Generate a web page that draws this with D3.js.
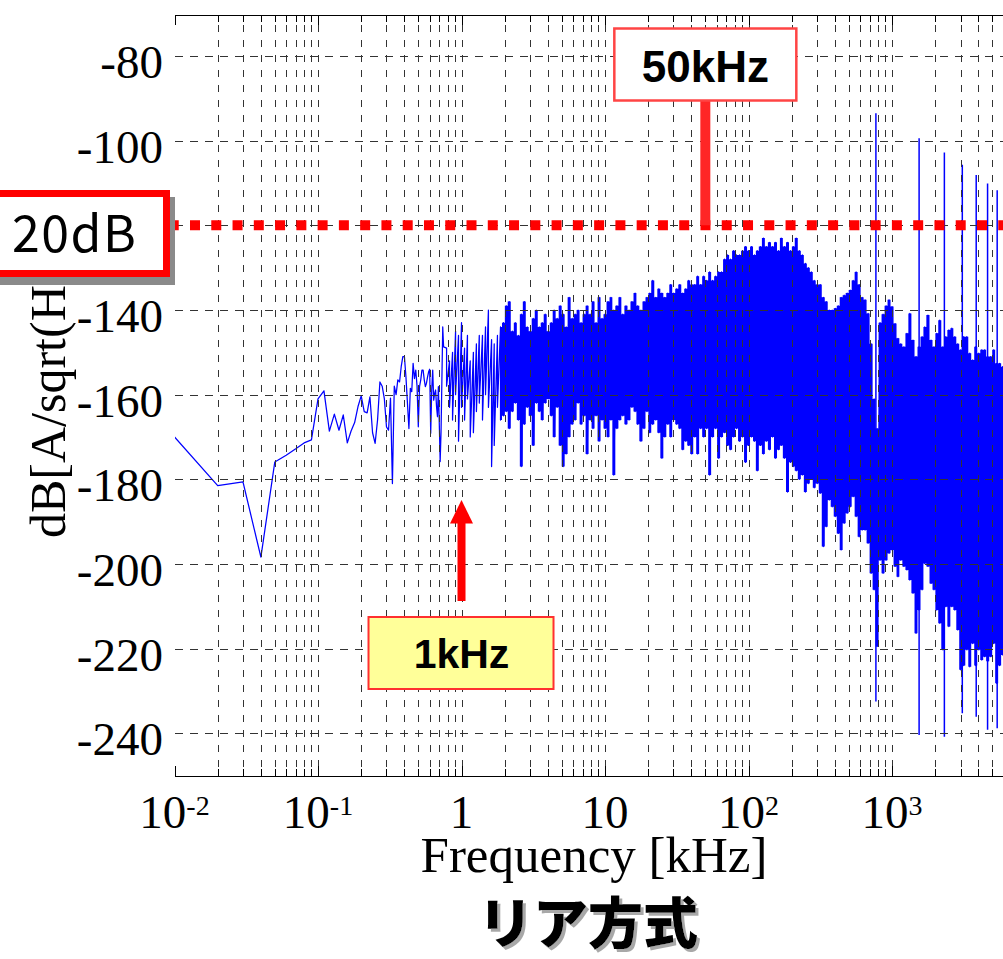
<!DOCTYPE html>
<html>
<head>
<meta charset="utf-8">
<script src="https://cdn.jsdelivr.net/npm/d3@7"></script>
<style>
  html, body { margin: 0; padding: 0; background: #ffffff; overflow: hidden; }
  svg { display: block; }
</style>
</head>
<body>
<svg id="chart" width="1003" height="959"></svg>
<script>
// ---- Spectrum data: frequency in kHz, level in dB[A/sqrt(Hz)] ----

// Individual FFT bins at the low end (10 Hz spacing)
const lowFreq = [0.01,0.02,0.03,0.04,0.05,0.06,0.07,0.08,0.09,0.10,
  0.11,0.12,0.13,0.14,0.15,0.16,0.17,0.18,0.19,0.20,
  0.21,0.22,0.23,0.24,0.25,0.26,0.27,0.28,0.29,0.30,
  0.31,0.32,0.33,0.34,0.35,0.36,0.37,0.38,0.39,0.40,
  0.41,0.42,0.43,0.44,0.45,0.46,0.47,0.48,0.49,0.50,
  0.51,0.52,0.53,0.54,0.55,0.56,0.57,0.58,0.59,0.60,
  0.61,0.62,0.63,0.64,0.65,0.66,0.67,0.68,0.69,0.70,
  0.71,0.72,0.73,0.74,0.75];
const lowDb = [-170,-181.5,-180.6,-198.4,-175.9,-174.3,-172.8,-171.4,-170.7,-161.0,
  -159.1,-168.6,-164.6,-168.4,-164.8,-171.4,-168.6,-166.6,-162.8,-160.3,
  -164.0,-164.3,-160.5,-169.0,-171.5,-166.0,-157.0,-158.0,-161.0,-167.6,
  -168.4,-160.8,-181.0,-158.0,-160.0,-156.5,-157.0,-153.4,-151.0,-151.0,
  -155.8,-162.0,-168.0,-158.5,-159.3,-152.6,-156.2,-154.2,-158.0,-167.6,
  -158.1,-156.5,-154.2,-154.2,-156.5,-158.1,-157.3,-155.8,-154.6,-154.0,
  -169.1,-158.9,-154.2,-161.3,-159.7,-158.9,-162.9,-165.2,-158.1,-166.8,
  -175.8,-168.8,-156.5,-144.0,-148.7];

// Dense part: per-column max / min of the trace
const bandFreq = [0.787,0.825,0.866,0.909,0.953,
  1.00,1.05,1.10,1.15,1.21,1.27,1.33,1.40,1.47,1.54,1.62,1.69,1.78,1.87,1.96,2.05,2.15,2.26,2.37,2.49,
  2.61,2.74,2.87,3.01,3.16,3.32,3.48,3.65,3.83,4.02,4.22,4.42,4.64,4.87,5.11,5.36,5.62,5.90,6.19,6.49,
  6.81,7.15,7.50,7.87,8.25,8.66,9.09,9.53,
  10.0,10.5,11.0,11.5,12.1,12.7,13.3,14.0,14.7,15.4,16.2,16.9,17.8,18.7,19.6,20.5,21.5,22.6,23.7,24.9,
  26.1,27.4,28.7,30.1,31.6,33.2,34.8,36.5,38.3,40.2,42.2,44.2,46.4,48.7,51.1,53.6,56.2,59.0,61.9,64.9,
  68.1,71.5,75.0,78.7,82.5,86.6,90.9,95.3,
  100,105,110,115,121,127,133,140,147,154,162,169,178,187,196,205,215,226,237,249,
  261,274,287,301,316,332,348,365,383,402,422,442,464,487,511,536,562,590,619,649,
  681,715,750,787,825,866,909,953,
  1000,1050,1100,1150,1210,1270,1330,1400,1470,1540,1620,1690,1780,1870,1960,2050,2150,2260,2370,2490,
  2610,2740,2870,3010,3160,3320,3480,3650,3830,4020,4220,4420,4640,4870,5110,5360,5620,5900,6190];
const bandHi = [-149,-152,-150,-145,-146,
  -143,-149,-146,-152,-150,-148,-146,-146,-144,-140,-147,-148,-146,-144,-143,-139,-138,-145,-143,-146,
  -141,-138,-144,-145,-142,-140,-144,-143,-141,-145,-143,-140,-142,-139,-141,-144,-137,-142,-141,-140,
  -143,-141,-139,-141,-138,-143,-137,-142,
  -141,-138,-137,-140,-139,-137,-141,-139,-140,-138,-136,-139,-140,-138,-137,-136,-133,-137,-135,-136,
  -137,-136,-134,-136,-135,-134,-136,-135,-133,-134,-134,-132,-134,-132,-133,-131,-133,-132,-131,-131,
  -128,-127,-128,-126,-127,-127,-126,-125,
  -126,-125,-127,-126,-125,-123,-125,-124,-125,-124,-126,-123,-125,-124,-126,-125,-123,-126,-127,-129,
  -130,-131,-133,-134,-134,-137,-138,-140,-140,-139.6,-139,-137,-136.5,-136,-135.3,-133,-131,-134,-137,-137.6,
  -140.8,-148,-161,-168,-143,-141,-139,-137.6,
  -139.2,-143.2,-146.7,-148,-148.7,-145.5,-140.8,-147.1,-151,-148.7,-146.3,-144,-141.2,-147.1,-148.7,-145.5,-142.4,-148.7,-146.3,-144.7,
  -144.3,-146.3,-148,-149.4,-146.3,-146.3,-150.2,-151.8,-148.7,-150.2,-149.4,-149.4,-151,-151,-149.4,-152.6,-152.6,-153.4,-154];
const bandLo = [-158,-163,-166,-160,-171,
  -163,-166,-161,-170,-169,-164,-162,-166,-160,-163,-177,-172,-163,-166,-165,-164,-168,-164,-162,-166,
  -177,-167,-163,-165,-172,-162,-164,-166,-162,-161,-165,-170,-163,-172,-177,-174,-170,-167,-166,-162,
  -167,-165,-174,-166,-168,-165,-171,-166,
  -168,-170,-166,-179,-168,-166,-165,-167,-166,-163,-164,-167,-171,-168,-164,-169,-167,-166,-169,-175,
  -170,-167,-170,-166,-167,-168,-173,-171,-172,-174,-170,-174,-168,-170,-168,-179,-170,-168,-175,-170,
  -169,-172,-173,-170,-168,-171,-170,-176,
  -172,-170,-171,-178,-172,-174,-171,-173,-170,-175,-173,-172,-175,-183,-176,-177,-178,-180,-179,-183,
  -181,-180,-182,-181,-183.3,-195.9,-191.2,-184.9,-186.5,-188.8,-192.8,-196.7,-190.4,-188,-186.5,-184.1,-188.8,-193.6,-192,-192,
  -195.1,-202.2,-206.1,-219.5,-199.1,-202.2,-199.1,-197.5,
  -196.7,-200.6,-203,-199.1,-200.6,-201.4,-203.8,-206.9,-216.4,-210.9,-206.1,-199.9,-200.6,-204.6,-206.1,-210.9,-214,-220.3,-210.1,-214.8,
  -210.1,-210.9,-215.6,-225,-224,-220.3,-224.3,-218.8,-224,-220.3,-222.7,-221.9,-223,-221.9,-218.8,-228.2,-224,-221.5,-222];

// Switching harmonics (772 kHz fundamental): peak and floor of each line
const harmFreq = [772, 1544, 2316, 3088, 3860, 4632, 5404];
const harmPeak = [-93.5, -99.4, -102.8, -105.7, -108.1, -110.1, -111.7];
const harmFloor = [-232.5, -240.4, -240.8, -235.3, -236.1, -239.2, -238.8];

// Axis ticks
const xTickExps = [-2, -1, 0, 1, 2, 3];
const yTicks = [-240, -220, -200, -180, -160, -140, -120, -100, -80];

// Annotations
const limitDb = -120;          // 20 dB margin line
const markerHigh = 50;         // kHz
const markerLow = 1;           // kHz
const solidFrom = 1.87;        // kHz, above this the trace is dense enough to read as a solid band

// ---- Layout ----
const svg = d3.select('#chart');
const X0 = 175, X1 = 1003, Y0 = 15, Y1 = 776;
const x = d3.scaleLog().domain([0.01, 6000]).range([174.5, 1003.7]);
const y = d3.scaleLinear().domain([-250.1, -70.3]).range([Y1, Y0]);

const serif = "'Liberation Serif','Times New Roman',Times,serif";
const sans = "'Liberation Sans',Arial,Helvetica,sans-serif";
const cjk = "'Noto Sans CJK JP','Noto Sans CJK SC',sans-serif";

const defs = svg.append('defs');
defs.append('clipPath').attr('id', 'plotClip')
  .append('rect').attr('x', X0).attr('y', Y0 - 1).attr('width', X1 - X0 + 5).attr('height', Y1 - Y0 + 2);
defs.append('filter').attr('id', 'titleShadow')
  .attr('x', '-5%').attr('y', '-5%').attr('width', '115%').attr('height', '115%')
  .append('feDropShadow')
  .attr('dx', 3).attr('dy', 3).attr('stdDeviation', 0.6)
  .attr('flood-color', '#a8a8a8').attr('flood-opacity', 1);

// ---- Spectrum trace ----
const trace = [];
lowFreq.forEach((f, i) => trace.push([f, lowDb[i]]));
bandFreq.forEach((f, i) => { trace.push([f, bandHi[i]]); trace.push([f, bandLo[i]]); });

const gData = svg.append('g').attr('clip-path', 'url(#plotClip)');

// solid body of the dense band, one step per column
const bandCols = bandFreq.map((f, i) => ({ f, hi: bandHi[i], lo: bandLo[i] })).filter(d => d.f >= solidFrom);
gData.append('path')
  .attr('d', d3.area().curve(d3.curveStep).x(d => x(d.f)).y0(d => y(d.lo)).y1(d => y(d.hi))(bandCols))
  .attr('fill', '#0000ff').attr('stroke', 'none');

gData.append('path')
  .attr('d', d3.line().x(d => x(d[0])).y(d => y(d[1]))(trace))
  .attr('fill', 'none')
  .attr('stroke', '#0000ff')
  .attr('stroke-width', 1.25)
  .attr('stroke-linejoin', 'round');

gData.selectAll('line.harm').data(harmFreq).join('line')
  .attr('class', 'harm')
  .attr('x1', d => x(d)).attr('x2', d => x(d))
  .attr('y1', (d, i) => y(harmPeak[i])).attr('y2', (d, i) => y(harmFloor[i]))
  .attr('stroke', '#0000ff').attr('stroke-width', 1.5);

// ---- Grid (drawn over the trace) ----
const xt = x.ticks().filter(t => t >= 0.01 && x(t) <= X1 + 1);
const isMajor = t => Math.abs(Math.log10(t) - Math.round(Math.log10(t))) < 1e-9;
const gGrid = svg.append('g').attr('shape-rendering', 'crispEdges');
gGrid.selectAll('line.vg').data(xt.filter(t => x(t) > X0 + 2)).join('line')
  .attr('class', 'vg')
  .attr('x1', d => Math.round(x(d)) + 0.5).attr('x2', d => Math.round(x(d)) + 0.5)
  .attr('y1', Y1).attr('y2', Y0)
  .attr('stroke', '#333').attr('stroke-width', 1)
  .attr('stroke-dasharray', '7,8').attr('stroke-dashoffset', 6);
gGrid.selectAll('line.hg').data(yTicks).join('line')
  .attr('class', 'hg')
  .attr('x1', X0).attr('x2', X1)
  .attr('y1', d => Math.round(y(d)) + 0.5).attr('y2', d => Math.round(y(d)) + 0.5)
  .attr('stroke', '#333').attr('stroke-width', 1)
  .attr('stroke-dasharray', '8,7');

// ---- Axes box: top and bottom lines with log ticks ----
const gAxis = svg.append('g').attr('shape-rendering', 'crispEdges');
[Y0, Y1].forEach(yy => {
  gAxis.append('line').attr('x1', X0).attr('x2', X1).attr('y1', yy + 0.5).attr('y2', yy + 0.5)
    .attr('stroke', '#000').attr('stroke-width', 1.3);
});
gAxis.selectAll('line.bt').data(xt).join('line')
  .attr('class', 'bt')
  .attr('x1', d => Math.round(x(d)) + 0.5).attr('x2', d => Math.round(x(d)) + 0.5)
  .attr('y1', Y1).attr('y2', d => Y1 - (isMajor(d) ? 10 : 7))
  .attr('stroke', '#000').attr('stroke-width', 1);
gAxis.selectAll('line.tt').data(xt).join('line')
  .attr('class', 'tt')
  .attr('x1', d => Math.round(x(d)) + 0.5).attr('x2', d => Math.round(x(d)) + 0.5)
  .attr('y1', Y0).attr('y2', d => Y0 + (isMajor(d) ? 10 : 7))
  .attr('stroke', '#000').attr('stroke-width', 1);

// ---- Tick labels ----
const gLab = svg.append('g').attr('font-family', serif).attr('fill', '#000');
gLab.selectAll('text.yl').data(yTicks).join('text')
  .attr('class', 'yl')
  .attr('x', 163).attr('y', d => y(d) + 22)
  .attr('text-anchor', 'end').attr('font-size', 47)
  .text(d => String(d));

xTickExps.forEach(e => {
  const t = gLab.append('text')
    .attr('x', x(Math.pow(10, e))).attr('y', 828)
    .attr('text-anchor', 'middle').attr('font-size', 47);
  if (e === 0) t.text('1');
  else if (e === 1) t.text('10');
  else {
    t.append('tspan').text('10');
    t.append('tspan').attr('dy', -13).attr('font-size', 28).text(String(e));
  }
});

// Axis titles
gLab.append('text')
  .attr('x', 594).attr('y', 872).attr('text-anchor', 'middle').attr('font-size', 51)
  .text('Frequency [kHz]');
gLab.append('text')
  .attr('transform', 'translate(65,538) rotate(-90)')
  .attr('text-anchor', 'start').attr('font-size', 50)
  .text('dB[A/sqrt(Hz)]');

// ---- Annotations ----
const gAnn = svg.append('g');

// 20 dB margin line
gAnn.append('line')
  .attr('x1', X0).attr('x2', X1).attr('y1', y(limitDb)).attr('y2', y(limitDb))
  .attr('stroke', '#ff0000').attr('stroke-width', 10)
  .attr('stroke-dasharray', '10,11.27').attr('stroke-dashoffset', 6.27);

// 50 kHz callout
const xh = x(markerHigh);
gAnn.append('line')
  .attr('x1', xh).attr('x2', xh).attr('y1', 101).attr('y2', y(limitDb))
  .attr('stroke', '#ff2626').attr('stroke-width', 10);
gAnn.append('rect')
  .attr('x', xh - 91).attr('y', 28.5).attr('width', 182).attr('height', 72)
  .attr('fill', '#ffffff').attr('stroke', '#ff4444').attr('stroke-width', 2.5);
gAnn.append('text')
  .attr('x', xh).attr('y', 82).attr('text-anchor', 'middle')
  .attr('font-family', sans).attr('font-weight', 'bold').attr('font-size', 44)
  .attr('fill', '#000').text('50kHz');

// 1 kHz arrow and callout
const xl = x(markerLow);
gAnn.append('rect')
  .attr('x', xl - 4).attr('y', 520).attr('width', 8).attr('height', 81)
  .attr('fill', '#ff0000');
gAnn.append('path')
  .attr('d', `M${xl},500 L${xl + 11.5},523.5 L${xl - 11.5},523.5 Z`)
  .attr('fill', '#ff0000');
gAnn.append('rect')
  .attr('x', xl - 93).attr('y', 617).attr('width', 185).attr('height', 72)
  .attr('fill', '#ffff99').attr('stroke', '#ff3030').attr('stroke-width', 2);
gAnn.append('text')
  .attr('x', xl).attr('y', 668).attr('text-anchor', 'middle')
  .attr('font-family', sans).attr('font-weight', 'bold').attr('font-size', 41)
  .attr('fill', '#000').text('1kHz');

// 20dB label box with drop shadow
gAnn.append('rect')
  .attr('x', -20).attr('y', 197).attr('width', 195).attr('height', 88)
  .attr('fill', '#8a8a8a');
gAnn.append('rect')
  .attr('x', -20).attr('y', 193.5).attr('width', 186.5).attr('height', 80)
  .attr('fill', '#ffffff').attr('stroke', '#ff0000').attr('stroke-width', 7);
gAnn.append('text')
  .attr('x', 12).attr('y', 252)
  .attr('font-family', cjk).attr('font-size', 50).attr('letter-spacing', 1.5)
  .attr('fill', '#000').text('20dB');

// Title with drop shadow
svg.append('text')
  .attr('x', 588).attr('y', 943).attr('text-anchor', 'middle')
  .attr('font-family', cjk).attr('font-weight', 900).attr('font-size', 55)
  .attr('fill', '#000').attr('filter', 'url(#titleShadow)')
  .text('リア方式');
</script>
</body>
</html>
